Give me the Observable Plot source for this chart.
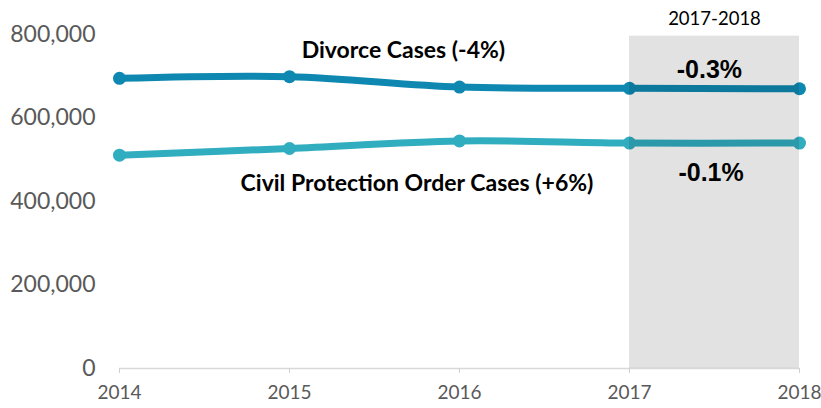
<!DOCTYPE html>
<html>
<head>
<meta charset="utf-8">
<script src="https://cdn.jsdelivr.net/npm/d3@7"></script>
<script src="https://cdn.jsdelivr.net/npm/@observablehq/plot@0.6"></script>
<style>
  html, body { margin: 0; padding: 0; background: #fff; }
  #chart svg { display: block; }
</style>
</head>
<body>
<div id="chart"></div>
<script>
const years = [2014, 2015, 2016, 2017, 2018];
const divorce = [695000, 699000, 674000, 671000, 670000];
const civil = [511000, 527000, 545000, 540000, 540000];
const yTicks = [0, 200000, 400000, 600000, 800000];
const highlight = [{x1: 2017, x2: 2018, y1: 0, y2: 796000, label: "2017-2018"}];
const seriesLabels = [
  {x: 2015.67, y: 762000, text: "Divorce Cases (-4%)"},
  {x: 2015.75, y: 443000, text: "Civil Protection Order Cases (+6%)"}
];
const changeLabels = [
  {x: 2017.47, y: 714000, text: "-0.3%"},
  {x: 2017.48, y: 469000, text: "-0.1%"}
];

const divData = years.map((y, i) => ({year: y, value: divorce[i]}));
const civData = years.map((y, i) => ({year: y, value: civil[i]}));

const divColor = "#0e88b1";
const civColor = "#31adc0";

const chart = Plot.plot({
  width: 821,
  height: 408,
  marginLeft: 119,
  marginRight: 22,
  marginTop: 34,
  marginBottom: 40,
  style: {fontFamily: "Lato, 'Open Sans', sans-serif", background: "#fff"},
  x: {domain: [2014, 2018], type: "linear"},
  y: {domain: [0, 800000]},
  marks: [
    Plot.axisY({ticks: yTicks, tickSize: 0, tickPadding: 24, tickFormat: d3.format(","),
      fill: "#595959", fontSize: 23, label: null}),
    Plot.ruleY([0], {stroke: "#d9d9d9", strokeWidth: 1.5}),
    Plot.axisX({ticks: years, tickFormat: d => String(d), tickSize: 5, tickPadding: 12,
      stroke: "#d0d0d0", fill: "#595959", fontSize: 19, label: null}),
    Plot.line(divData, {x: "year", y: "value", stroke: divColor, strokeWidth: 7, curve: "catmull-rom"}),
    Plot.dot(divData, {x: "year", y: "value", fill: divColor, r: 6.5}),
    Plot.line(civData, {x: "year", y: "value", stroke: civColor, strokeWidth: 7, curve: "catmull-rom"}),
    Plot.dot(civData, {x: "year", y: "value", fill: civColor, r: 6.5}),
    Plot.rect(highlight, {x1: "x1", x2: "x2", y1: "y1", y2: "y2", fill: "#000", fillOpacity: 0.115}),
    Plot.text(highlight, {x: d => (d.x1 + d.x2) / 2, y: "y2", text: "label", dy: -17,
      fill: "#000", fontSize: 18.5}),
    Plot.text(seriesLabels, {x: "x", y: "y", text: "text", fill: "#000", fontSize: 23, fontWeight: "bold"}),
    Plot.text(changeLabels, {x: "x", y: "y", text: "text", fill: "#000", fontSize: 25, fontWeight: "bold",
      fontFamily: "'Liberation Sans', Arial, sans-serif"})
  ]
});
document.getElementById("chart").appendChild(chart);
</script>
</body>
</html>
